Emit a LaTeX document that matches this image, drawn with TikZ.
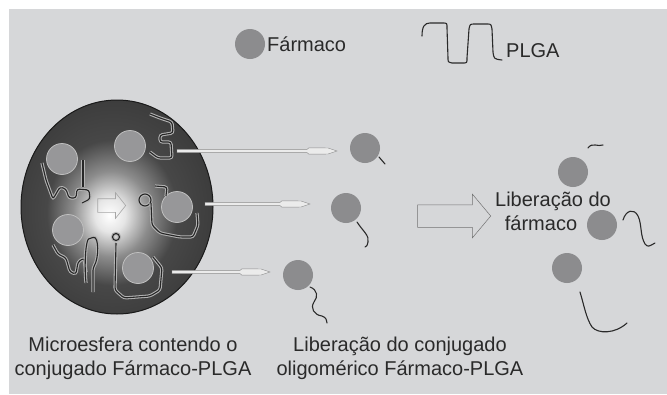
\documentclass[tikz,border=0pt]{standalone}
\usepackage{fontspec}
\setmainfont{Liberation Sans}
\usetikzlibrary{arrows.meta, shapes.arrows, calc}
\definecolor{panelgray}{RGB}{214,215,217}
\definecolor{druggray}{RGB}{140,140,142}
\definecolor{inkgray}{RGB}{42,42,42}
\pgfdeclareradialshading{microsphere}{\pgfpoint{-2bp}{-2bp}}{%
  color(0bp)=(white); color(4bp)=(white!90!black); color(10bp)=(black!45);
  color(17bp)=(black!72); color(30bp)=(black!78); color(45bp)=(black!83);
  color(50bp)=(black!93)}
% thin needle pointing right, from #1 to #2
\newcommand{\releasearrow}[2]{%
  \filldraw[needle] ($(#1)+(0,-1.6)$) -- ($(#2)+(-30,-1.6)$) -- ($(#2)+(-28,-3.2)$)
    -- ($(#2)+(-9,-3)$) -- (#2) -- ($(#2)+(-9,3)$) -- ($(#2)+(-28,3.2)$)
    -- ($(#2)+(-30,1.6)$) -- ($(#1)+(0,1.6)$) -- cycle;}

\begin{document}
\begin{tikzpicture}[x=1pt, y=-1pt,
    drug/.style={circle, fill=druggray, minimum size=30pt, inner sep=0pt},
    coredrug/.style={circle, fill=druggray!90!white, draw=white!75!black, line width=0.8pt,
      minimum size=31pt, inner sep=0pt},
    chain/.style={draw=black!85, line width=1.1pt, rounded corners=2.5pt,
      preaction={draw=white!70!black, line width=3.2pt}},
    tail/.style={draw=inkgray, line width=1.1pt, line cap=round},
    needle/.style={draw=black!45, fill=white!92!black, line width=0.45pt},
    lbl/.style={text=inkgray, font=\fontsize{20}{24}\selectfont, align=center, inner sep=0pt},
    bigarrow/.style={single arrow, draw=black!55, line width=0.5pt, inner xsep=0pt,
      inner ysep=11pt, minimum height=73pt, single arrow head extend=10.5pt,
      single arrow tip angle=100},
    corearrow/.style={single arrow, draw=black!35, line width=0.6pt, inner xsep=0pt,
      inner ysep=6.5pt, minimum height=28pt, single arrow head extend=6pt,
      single arrow tip angle=103}]
    \useasboundingbox (0,0) rectangle (667,394);
    \fill[panelgray] (9,9) rectangle (667,394);

    % legend
    \node[drug] (legdrug) at (250,44) {};
    \node[lbl, anchor=base west] (legdrugtxt) at (267,51) {Fármaco};
    \draw[tail] (422,36) .. controls (422,26) and (425,23) .. (430,23) -- (443,23)
      .. controls (447,23) .. (447,28) -- (448,58) .. controls (448,62) .. (452,63)
      -- (463,63) .. controls (467,63) .. (467,58) -- (469,29)
      .. controls (470,24) .. (475,24) -- (487,24) .. controls (491,24) .. (492,29)
      -- (493,52) .. controls (494,59) .. (502,60);
    \node[lbl, anchor=base west] (legplga) at (506,57) {PLGA};

    % microsphere
    \shade[shading=microsphere, draw=black!90, line width=1pt]
      (117,207) ellipse [x radius=96pt, y radius=107pt];
    \node[corearrow] (inflow) at (109,205.5) {};
    \foreach \p [count=\i] in {(62,159),(130,146),(177,207),(68,230),(138,268)}
      \node[coredrug] (c\i) at \p {};

    % polymer chains inside
    \draw[chain] (42,163) -- (46,180) -- (53,199) -- (60,187) -- (66,189) -- (69,198)
      -- (76,198) -- (77,189) -- (89,190) -- (90,199) -- (82,203);
    \draw[chain] (83,160) -- (83,187);
    \draw[chain] (150,114) -- (160,118) -- (172,122) -- (173,133) -- (160,135) -- (160,142)
      -- (171,142) -- (172,158) -- (158,158) -- (150,152);
    \draw[chain] (145,200) circle (6pt);
    \draw[chain] (151,203) -- (152,225) -- (160,233) -- (180,237) -- (193,237) -- (198,225)
      -- (197,213);
    \draw[chain] (155,186) -- (167,187) -- (166,196);
    \draw[chain] (53,245) -- (58,254) -- (66,258) -- (70,272) -- (76,274) -- (78,262)
      -- (84,258) -- (86,272);
    \draw[chain] (86,283) .. controls (84,262) and (86,240) .. (91,238)
      .. controls (99,236) and (99,258) .. (93,268) -- (93,292);
    \draw[chain] (116,237) circle (3.5pt);
    \draw[chain] (116,243) -- (115,290) -- (124,298) -- (150,296) -- (160,290) -- (162,268)
      -- (153,257);

    % released oligomeric conjugates
    \node[drug] (o1) at (365,148) {};
    \node[drug] (o2) at (346,208) {};
    \node[drug] (o3) at (298,275) {};
    \draw[tail] (379,157) -- (385,164);
    \draw[tail] (357,222) .. controls (362,230) and (370,236) .. (368,242)
      .. controls (367,246) .. (365,247);
    \draw[tail] (310,287) .. controls (318,290) and (318,297) .. (314,302)
      .. controls (310,308) and (314,315) .. (322,316) .. controls (326,318) .. (327,323);

    % release arrows out of the sphere
    \coordinate (s1) at (177,151);
    \coordinate (t1) at (337,151);
    \coordinate (s2) at (205,204);
    \coordinate (t2) at (310,204);
    \coordinate (s3) at (172,272);
    \coordinate (t3) at (270,272);
    \releasearrow{s1}{t1}
    \releasearrow{s2}{t2}
    \releasearrow{s3}{t3}

    \node[bigarrow] (flow) at (449.5,216) {};

    % free drug
    \node[lbl] (freetxt) at (553,211) {Liberação do\\fármaco\hspace*{24pt}};
    \node[drug] (f1) at (573,172) {};
    \node[drug] (f2) at (602,225) {};
    \node[drug] (f3) at (567,268) {};
    \draw[tail] (588,148) .. controls (592,142) and (598,147) .. (603,145);
    \draw[tail] (623,220) .. controls (626,210) and (634,208) .. (638,216)
      .. controls (642,224) and (640,236) .. (645,244) .. controls (648,247) .. (655,243);
    \draw[tail] (580,292) .. controls (584,305) and (586,318) .. (592,327)
      .. controls (598,334) and (615,334) .. (627,323);

    % captions
    \node[lbl] (coretxt) at (133,358) {Microesfera contendo o\\conjugado Fármaco-PLGA};
    \node[lbl] (oligtxt) at (400,358) {Liberação do conjugado\\oligomérico Fármaco-PLGA};
\end{tikzpicture}
\end{document}
